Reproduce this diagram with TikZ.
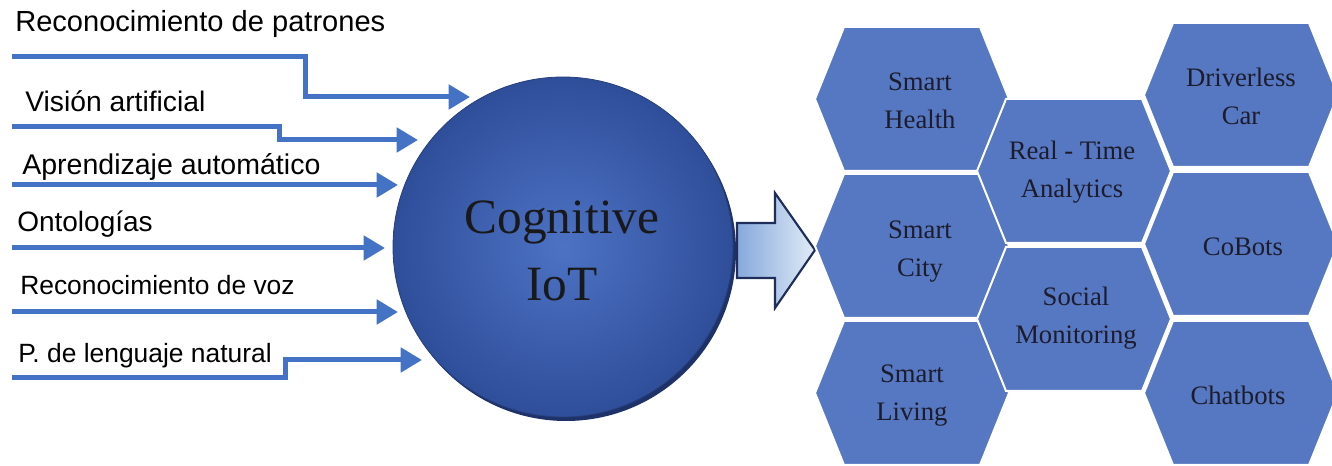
\documentclass[tikz,border=0pt]{standalone}
\usepackage{fontspec}
\setmainfont{Liberation Serif}
\setsansfont{Liberation Sans}
\usetikzlibrary{arrows.meta,shapes.geometric}
\definecolor{lineblue}{HTML}{4472C4}
\definecolor{hexblue}{HTML}{5677C1}
\definecolor{rimnavy}{HTML}{1E3269}
\definecolor{ballin}{HTML}{4D72C4}
\definecolor{ballout}{HTML}{2F4E9A}
\definecolor{arrowedge}{HTML}{1F2D5A}
\definecolor{arrowdark}{HTML}{86A9DC}
\definecolor{arrowlight}{HTML}{E1EBF7}
\definecolor{hexink}{HTML}{1C1C2C}
\tikzset{
  conn/.style={draw=lineblue, line width=3.75pt, line join=miter,
    -{Triangle[length=16pt,width=18pt]}},
  lbl/.style={anchor=base west, inner sep=0pt, font=\sffamily\fontsize{#1}{25}\selectfont},
  lbl/.default=21,
  hexcell/.style={fill=hexblue, draw=white, line width=1.5pt, line join=miter},
  hextext/.style={align=center, text=hexink, inner sep=0pt, font=\fontsize{20}{28.5}\selectfont},
}
\newcommand{\hexpoly}[2]{%
  \filldraw[hexcell] (#1-97,#2) -- (#1-68,#2-72) -- (#1+68,#2-72) -- (#1+97,#2)
    -- (#1+68,#2+72) -- (#1-68,#2+72) -- cycle;}
\begin{document}
\begin{tikzpicture}[x=0.75pt,y=-0.75pt]
\useasboundingbox (0,0) rectangle (1332,466);

% left labels
\node[lbl=21.8] (l1) at (15,32) {Reconocimiento de patrones};
\node[lbl=21.2] (l2) at (25,112) {Visión artificial};
\node[lbl=21.4] (l3) at (22,175) {Aprendizaje automático};
\node[lbl=21] (l4) at (17,232) {Ontologías};
\node[lbl=19.8] (l5) at (20,295) {Reconocimiento de voz};
\node[lbl=19.8] (l6) at (18,363) {P. de lenguaje natural};

% arrow end points
\coordinate (s1) at (12,57);  \coordinate (k1) at (305,77);  \coordinate (t1) at (470,97);
\coordinate (s2) at (12,127); \coordinate (k2) at (279,133); \coordinate (t2) at (418,140);
\coordinate (s3) at (12,185); \coordinate (t3) at (398,185);
\coordinate (s4) at (12,248); \coordinate (t4) at (385,248);
\coordinate (s5) at (12,312); \coordinate (t5) at (398,312);
\coordinate (s6) at (12,378); \coordinate (k6) at (285,369); \coordinate (t6) at (422,360);

\draw[conn] (s1) -| (k1) |- (t1);
\draw[conn] (s2) -| (k2) |- (t2);
\draw[conn] (s3) -- (t3);
\draw[conn] (s4) -- (t4);
\draw[conn] (s5) -- (t5);
\draw[conn] (s6) -| (k6) |- (t6);

% central circle
\fill[rimnavy] (566,251) circle (170);
\node[circle, minimum size=255pt, inner sep=0pt, inner color=ballin, outer color=ballout,
  draw=ballout!80!black, line width=0.6pt] (cog) at (563,247) {};
\node[align=center, text=black!90, font=\fontsize{37}{50}\selectfont] (cogtext) at (562,251) {Cognitive\\IoT};

% block arrow
\shade[left color=arrowdark, right color=arrowlight, draw=arrowedge, line width=1.6pt, line join=miter]
  (737,223) -- (775,223) -- (775,193) -- (815,250) -- (775,308) -- (775,278) -- (737,278) -- cycle;

% hexagons
\hexpoly{912}{99}
\hexpoly{912}{246}
\hexpoly{912}{393}
\hexpoly{1074}{171}
\hexpoly{1074}{319}
\hexpoly{1241}{95}
\hexpoly{1241}{244}
\hexpoly{1241}{393}

\node[hextext] (h1) at (920,101) {Smart\\Health};
\node[hextext] (h2) at (920,252) {Smart\\City};
\node[hextext] (h3) at (912,396) {Smart\\Living};
\node[hextext] (h4) at (1072,172) {Real - Time\\Analytics};
\node[hextext] (h5) at (1076,318) {Social\\Monitoring};
\node[hextext] (h6) at (1241,96) {Driverless\\Car};
\node[hextext] (h7) at (1243,247) {CoBots};
\node[hextext] (h8) at (1238,395) {Chatbots};
\end{tikzpicture}
\end{document}
